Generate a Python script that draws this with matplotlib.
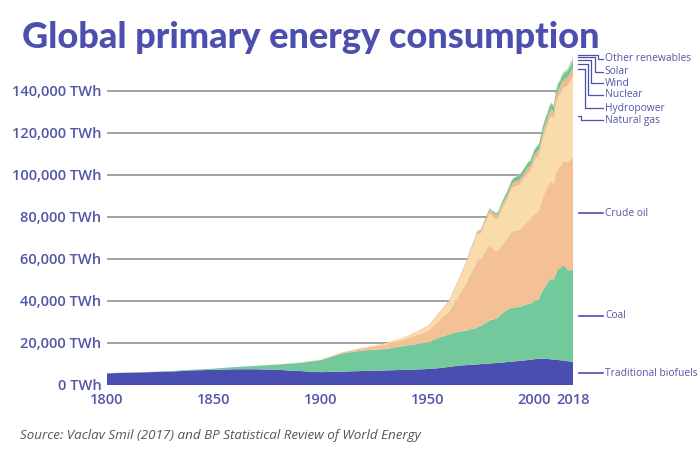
import matplotlib
matplotlib.use("Agg")
from matplotlib import pyplot as plt
import numpy as np

years = [1800, 1810, 1820, 1830, 1840, 1850, 1860, 1870, 1880, 1890, 1900, 1910, 1920, 1930, 1940, 1950,
         1955, 1960, 1965, 1968, 1970, 1972, 1973, 1975, 1977, 1979, 1980, 1981, 1982, 1983, 1985, 1987,
         1989, 1990, 1991, 1993, 1995, 1997, 1998, 2000, 2002, 2003, 2004, 2005, 2006, 2007, 2008, 2009,
         2010, 2011, 2012, 2013, 2014, 2015, 2016, 2017, 2018]

# TWh per year
biofuels = [5556, 5833, 6111, 6389, 6944, 7222, 7500, 7500, 7222, 6667, 6111, 6389, 6667, 6944, 7222, 7600,
            8000, 8611, 9300, 9450, 9600, 9750, 9800, 9950, 10100, 10250, 10300, 10400, 10450, 10500, 10700, 10900,
            11100, 11200, 11300, 11500, 11700, 11900, 12000, 12300, 12500, 12550, 12550, 12500, 12400, 12300, 12200, 12100,
            12000, 11900, 11800, 11700, 11600, 11400, 11300, 11200, 11111]
coal = [97, 128, 153, 264, 356, 569, 1061, 1642, 2542, 3856, 5728, 8656, 9833, 10125, 11586, 12603,
        14500, 15442, 16140, 16400, 17000, 17100, 17500, 18300, 19300, 20500, 20800, 20900, 21100, 21700, 23600, 24600,
        25600, 25800, 25600, 25700, 26300, 26700, 26600, 27700, 28300, 30800, 32800, 34400, 36000, 37700, 38400, 38100,
        41000, 43400, 43700, 45000, 45200, 44000, 43300, 43400, 43800]
crude_oil = [0, 0, 0, 0, 0, 0, 0, 6, 33, 89, 181, 444, 1111, 2111, 3222, 5444,
             8000, 11000, 17800, 22500, 26200, 29500, 32000, 31500, 34500, 36200, 34500, 33400, 32300, 32100, 32600, 34000,
             35800, 36600, 36700, 36800, 38000, 39800, 40000, 41500, 42200, 43000, 44600, 45100, 45600, 46300, 46400, 45700,
             47500, 48000, 48600, 49300, 49800, 50800, 51900, 52900, 53800]
natural_gas = [0, 0, 0, 0, 0, 0, 0, 0, 0, 64, 64, 142, 233, 603, 875, 2092,
               3000, 4472, 7300, 9200, 10700, 11800, 12300, 12600, 13500, 14800, 15100, 15200, 15200, 15400, 17300, 18500,
               20100, 20600, 21000, 21300, 22100, 22700, 23000, 25400, 26200, 26900, 27800, 29000, 29500, 30500, 31200, 30600,
               33000, 33600, 34400, 34800, 35200, 35900, 36800, 37600, 38500]
hydropower = [0, 0, 0, 0, 0, 0, 0, 0, 0, 0, 10, 30, 60, 110, 170, 330,
              480, 690, 920, 1060, 1180, 1260, 1300, 1420, 1500, 1670, 1730, 1760, 1800, 1870, 1980, 2030,
              2090, 2160, 2220, 2330, 2480, 2580, 2600, 2650, 2660, 2690, 2810, 2900, 2990, 3040, 3200, 3230,
              3430, 3490, 3660, 3780, 3880, 3880, 4020, 4060, 4190]
nuclear = [0, 0, 0, 0, 0, 0, 0, 0, 0, 0, 0, 0, 0, 0, 0, 0,
           0, 0, 30, 60, 80, 150, 200, 380, 540, 680, 710, 830, 900, 1020, 1490, 1730,
           1930, 2000, 2100, 2210, 2330, 2400, 2440, 2580, 2700, 2680, 2770, 2770, 2800, 2750, 2740, 2700,
           2770, 2650, 2470, 2490, 2540, 2570, 2610, 2640, 2700]
wind = [0, 0, 0, 0, 0, 0, 0, 0, 0, 0, 0, 0, 0, 0, 0, 0,
        0, 0, 0, 0, 0, 0, 0, 0, 0, 0, 0, 0, 0, 0, 0, 0,
        3, 4, 4, 6, 8, 12, 16, 31, 52, 63, 85, 104, 133, 171, 221, 276,
        342, 437, 523, 636, 712, 831, 962, 1140, 1270]
solar = [0, 0, 0, 0, 0, 0, 0, 0, 0, 0, 0, 0, 0, 0, 0, 0,
         0, 0, 0, 0, 0, 0, 0, 0, 0, 0, 0, 0, 0, 0, 0, 0,
         0, 0, 0, 0, 0, 1, 1, 1, 2, 2, 3, 4, 6, 8, 12, 20,
         32, 63, 99, 137, 190, 256, 333, 444, 585]
other_renewables = [0, 0, 0, 0, 0, 0, 0, 0, 0, 0, 0, 0, 0, 0, 0, 0,
                    0, 10, 20, 25, 30, 35, 38, 40, 60, 80, 90, 100, 110, 120, 150, 180,
                    220, 240, 250, 265, 280, 300, 305, 320, 340, 360, 375, 390, 410, 430, 450, 490,
                    540, 570, 610, 640, 660, 680, 710, 740, 760]

sources = ["Traditional biofuels", "Coal", "Crude oil", "Natural gas", "Hydropower",
           "Nuclear", "Wind", "Solar", "Other renewables"]
series = [biofuels, coal, crude_oil, natural_gas, hydropower, nuclear, wind, solar, other_renewables]
colors = ["#4a4eb1", "#73c99c", "#f4c196", "#f9dcab", "#f2b98c",
          "#6fc698", "#6fc698", "#f9dcab", "#f5d6a6"]

x_ticks = [1800, 1850, 1900, 1950, 2000, 2018]
y_ticks = [0, 20000, 40000, 60000, 80000, 100000, 120000, 140000]

blue = "#4c4fae"
label_blue = "#5356a8"

fig = plt.figure(figsize=(7, 4.66), dpi=100)
ax = fig.add_axes([107/700, 81/466, 466/700, 336/466])

for v in y_ticks[1:]:
    ax.axhline(v, color="#9a9a9a", lw=1.3, zorder=0)

ax.stackplot(years, *series, colors=colors, linewidth=0, zorder=2)

ax.set_xlim(1800, 2018)
ax.set_ylim(0, 160000)
for s in ax.spines.values():
    s.set_visible(False)

ax.set_xticks(x_ticks)
ax.set_xticklabels([str(t) for t in x_ticks])
ax.set_yticks(y_ticks)
ax.set_yticklabels([f"{v:,} TWh" for v in y_ticks])
ax.tick_params(length=0, colors=label_blue, labelsize=10.5)
ax.tick_params(axis="y", pad=4)
ax.tick_params(axis="x", pad=6)
for lab in ax.get_xticklabels() + ax.get_yticklabels():
    lab.set_fontfamily("Open Sans")
    lab.set_fontweight("semibold")

# right-hand labels with leader lines
cum = np.cumsum(np.array(series)[:, -1])
lower = np.concatenate([[0], cum[:-1]])
mids = (lower + cum) / 2

def px_year(px):
    return 1800 + (px - 107) / 2.138

def px_val(py):
    return (385 - py) / 2.1 * 1000

x_end = px_year(603)
x_txt = px_year(605)
x_start = px_year(578)

# lower labels sit at the middle of their layer
for i in range(3):
    ax.plot([px_year(579), x_end], [mids[i], mids[i]], color=blue, lw=1.2, clip_on=False)
    ax.text(x_txt, mids[i], sources[i], color=label_blue, fontsize=7.4, va="center",
            family="Open Sans", fontweight="medium", clip_on=False)

# upper ones fan out with elbows
label_y = {"Natural gas": 120, "Hydropower": 108, "Nuclear": 95, "Wind": 83, "Solar": 72,
           "Other renewables": 59}
start_y = {"Natural gas": None, "Hydropower": 69, "Nuclear": 64.5, "Wind": 60.5, "Solar": 57.5,
           "Other renewables": 55}
elbow_x = {"Natural gas": 581, "Hydropower": 585, "Nuclear": 588, "Wind": 591.5, "Solar": 595,
           "Other renewables": 598}
for i in range(3, 9):
    name = sources[i]
    y0 = mids[i] if start_y[name] is None else px_val(start_y[name])
    y1 = px_val(label_y[name])
    xe = px_year(elbow_x[name])
    ax.plot([x_start, xe, xe, x_end], [y0, y0, y1, y1], color=blue, lw=0.9, clip_on=False)
    ax.text(x_txt, y1, name, color=label_blue, fontsize=7.4, va="center",
            family="Open Sans", fontweight="medium", clip_on=False)

fig.text(22/700, 1 - 37/466, "Global primary energy consumption", color=blue, fontsize=26,
         fontweight=900, family="Lato", va="center", ha="left")
fig.text(20/700, 1 - 435/466, "Source: Vaclav Smil (2017) and BP Statistical Review of World Energy",
         color="#555555", fontsize=9.6, style="italic", family="Open Sans", va="center", ha="left")

fig.savefig("out.png", dpi=100)
